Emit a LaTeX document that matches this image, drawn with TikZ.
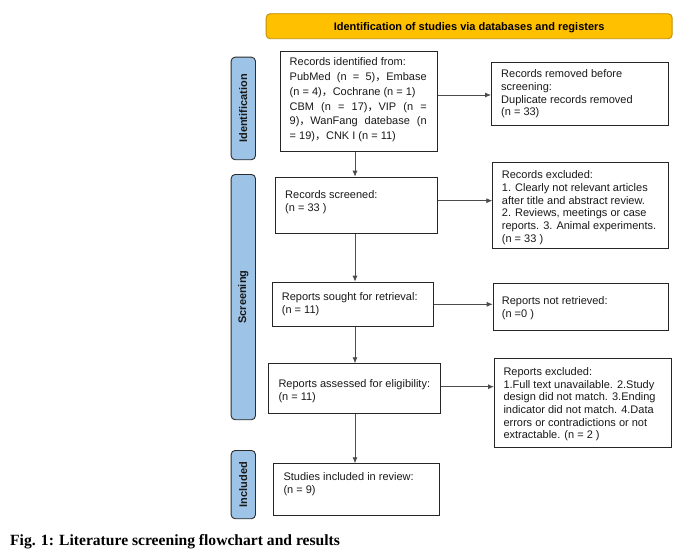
\documentclass[tikz,border=0pt]{standalone}
\usepackage{fontspec}
\setmainfont{Liberation Sans}
\newfontfamily\capfont{Liberation Serif}
\newfontfamily\cjk{Noto Sans CJK SC}
\usetikzlibrary{arrows.meta}
\newcommand\zhc{{\cjk ，}}
\newcommand\jline[1]{\makebox[137pt][s]{#1}}
\definecolor{banfill}{HTML}{FFC000}
\definecolor{banedge}{HTML}{BF9000}
\definecolor{sidefill}{HTML}{9DC3E6}
\definecolor{sideedge}{HTML}{2B2B2B}
\tikzset{
  box/.style={draw=black!85, line width=0.9pt, inner sep=0pt, anchor=north west},
  txt/.style={inner sep=0pt, anchor=north west, align=left, font=\fontsize{11}{12.7}\selectfont, text=black!90},
  side/.style={draw=sideedge, fill=sidefill, line width=0.9pt, rounded corners=4pt, inner sep=0pt, anchor=north west, minimum width=24.3pt},
  sidetxt/.style={rotate=90, font=\bfseries\fontsize{11}{13}\selectfont, text=black!90, inner sep=0pt},
  arr/.style={draw=black!70, line width=0.8pt, -{Latex[length=6pt,width=5pt]}, shorten >=0pt}
}
\begin{document}
\begin{tikzpicture}[x=1pt,y=-1pt]
\path[fill=white] (0,0) rectangle (679,551);
\useasboundingbox (0,0) rectangle (679,551);

% banner
\node[draw=banedge, fill=banfill, line width=0.9pt, rounded corners=4pt, anchor=north west, minimum width=406pt, minimum height=25pt, inner sep=0pt] (ban) at (265.7,13.3) {};
\node[font=\bfseries\fontsize{11}{13}\selectfont, inner sep=0pt] (bantxt) at ([yshift=-1pt]ban.center) {Identification of studies via databases and registers};

% side labels
\node[side, minimum height=102.6pt] (lid) at (230.7,56.7) {};
\node[sidetxt] (lidt) at (lid.center) {Identification};
\node[side, minimum height=245.3pt] (lsc) at (230.7,174) {};
\node[sidetxt] (lsct) at (lsc.center) {Screening};
\node[side, minimum height=68.3pt] (lin) at (230.7,450) {};
\node[sidetxt] (lint) at (lin.center) {Included};

% boxes
\node[box, minimum width=156.7pt, minimum height=100.3pt] (rid) at (280,50.7) {};
\node[box, minimum width=177.3pt, minimum height=62.7pt] (rrm) at (491,62.3) {};
\node[box, minimum width=162.3pt, minimum height=56pt] (rs) at (275,176.7) {};
\node[box, minimum width=176pt, minimum height=86.6pt] (rex) at (492.3,161.7) {};
\node[box, minimum width=161.6pt, minimum height=44.3pt] (rsr) at (271.7,281.7) {};
\node[box, minimum width=175pt, minimum height=46.7pt] (rnr) at (492.7,283.3) {};
\node[box, minimum width=171.7pt, minimum height=49.4pt] (ra) at (268.3,363.3) {};
\node[box, minimum width=176.7pt, minimum height=88.4pt] (rexc) at (494,358.3) {};
\node[box, minimum width=166pt, minimum height=51.7pt] (si) at (273.3,463.3) {};

% texts
\node[txt, font=\fontsize{11}{14.7}\selectfont] (tid) at (289.5,57.8) {Records identified from:\\
\jline{PubMed (n = 5)\zhc Embase}\\
(n = 4)\zhc Cochrane (n = 1)\\
\jline{CBM (n = 17)\zhc VIP (n =}\\
\jline{9)\zhc WanFang datebase (n}\\
= 19)\zhc CNK I (n = 11)};
\node[txt] (trm) at (501,69.5) {Records removed before\\screening:\\Duplicate records removed\\(n = 33)};
\node[txt] (trs) at (285,190.5) {Records screened:\\(n = 33 )};
\node[txt] (tex) at (501.7,170.5) {Records excluded:\\1. Clearly not relevant articles\\after title and abstract review.\\2. Reviews, meetings or case\\reports. 3. Animal experiments.\\(n = 33 )};
\node[txt] (tsr) at (281.7,292.2) {Reports sought for retrieval:\\(n = 11)};
\node[txt] (tnr) at (501.7,296.2) {Reports not retrieved:\\(n =0 )};
\node[txt] (ta) at (278.3,379.5) {Reports assessed for eligibility:\\(n = 11)};
\node[txt] (texc) at (503.3,367.2) {Reports excluded:\\1.Full text unavailable. 2.Study\\design did not match. 3.Ending\\indicator did not match. 4.Data\\errors or contradictions or not\\extractable. (n = 2 )};
\node[txt] (tsi) at (283.3,472.8) {Studies included in review:\\(n = 9)};

% caption
\node[anchor=base west, inner sep=0pt, font=\capfont\bfseries\fontsize{15.6}{17}\selectfont] (cap) at (10,545.5) {Fig. 1: Literature screening flowchart and results};

% connectors
\coordinate (col) at (355,0);
\coordinate (h1) at (0,95);
\coordinate (h2) at (0,200.7);
\coordinate (h3) at (0,304.3);
\coordinate (h4) at (0,386.7);
\draw[arr] (rid.east |- h1) -- (rrm.west |- h1);
\draw[arr] (rs.east |- h2) -- (rex.west |- h2);
\draw[arr] (rsr.east |- h3) -- (rnr.west |- h3);
\draw[arr] (ra.east |- h4) -- (rexc.west |- h4);
\draw[arr] (rid.south -| col) -- (rs.north -| col);
\draw[arr] (rs.south -| col) -- (rsr.north -| col);
\draw[arr] (rsr.south -| col) -- (ra.north -| col);
\draw[arr] (ra.south -| col) -- (si.north -| col);
\end{tikzpicture}
\end{document}
